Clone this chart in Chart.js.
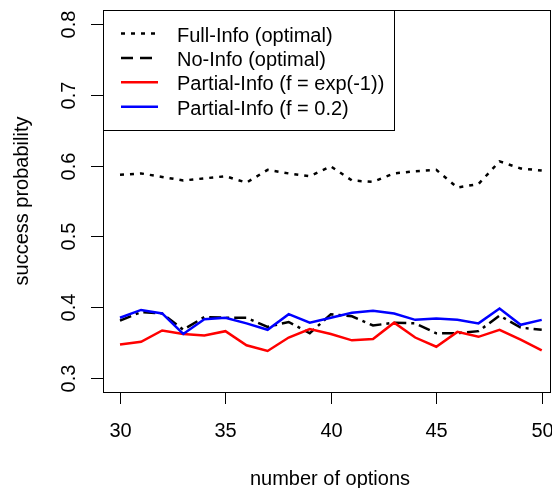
<!DOCTYPE html>
<html>
<head>
<meta charset="utf-8">
<script src="https://cdn.jsdelivr.net/npm/chart.js@4/dist/chart.umd.min.js"></script>
<style>
  html, body { margin: 0; padding: 0; background: #fff; }
  canvas { display: block; }
</style>
</head>
<body>
<canvas id="chart" width="552" height="488"></canvas>
<script>
// dados
const numOptions = [30, 31, 32, 33, 34, 35, 36, 37, 38, 39, 40, 41, 42, 43, 44, 45, 46, 47, 48, 49, 50];
const fullInfo = [0.587, 0.589, 0.584, 0.579, 0.582, 0.585, 0.576, 0.594, 0.589, 0.585, 0.599, 0.579, 0.577, 0.589, 0.592, 0.594, 0.569, 0.574, 0.606, 0.596, 0.593];
const noInfo = [0.381, 0.393, 0.391, 0.368, 0.386, 0.385, 0.385, 0.372, 0.379, 0.363, 0.390, 0.387, 0.374, 0.378, 0.377, 0.363, 0.363, 0.366, 0.388, 0.371, 0.368];
const partialExp = [0.347, 0.351, 0.367, 0.362, 0.360, 0.366, 0.346, 0.338, 0.357, 0.369, 0.362, 0.353, 0.355, 0.378, 0.357, 0.344, 0.365, 0.358, 0.368, 0.354, 0.339];
const partial02 = [0.385, 0.396, 0.391, 0.362, 0.383, 0.385, 0.377, 0.368, 0.390, 0.378, 0.385, 0.392, 0.395, 0.391, 0.382, 0.384, 0.382, 0.377, 0.398, 0.375, 0.382];
const xTicks = [30, 35, 40, 45, 50];
const yTicks = [0.3, 0.4, 0.5, 0.6, 0.7, 0.8];
const legendLabels = ['Full-Info (optimal)', 'No-Info (optimal)', 'Partial-Info (f = exp(-1))', 'Partial-Info (f = 0.2)'];

const FONT = '20px "Liberation Sans", Arial, Helvetica, sans-serif';

function toPoints(values) {
    return values.map((v, i) => ({ x: numOptions[i], y: v }));
}

// estilos das séries
const styles = [
    { color: '#000000', dash: [4, 6], legendDash: [4, 6] },
    { color: '#000000', dash: [12, 5, 3, 5], legendDash: [12, 7] },
    { color: '#ff0000', dash: [], legendDash: [] },
    { color: '#0000ff', dash: [], legendDash: [] }
];
const series = [fullInfo, noInfo, partialExp, partial02];

// eixos, caixa e legenda no estilo R
const rAxesPlugin = {
    id: 'rAxes',
    afterDraw(chart) {
        const ctx = chart.ctx;
        const area = chart.chartArea;
        const xs = chart.scales.x;
        const ys = chart.scales.y;
        ctx.save();
        ctx.strokeStyle = '#000';
        ctx.fillStyle = '#000';
        ctx.lineWidth = 1;
        ctx.setLineDash([]);

        // caixa
        ctx.strokeRect(area.left + 0.5, area.top + 0.5, area.right - area.left - 1, area.bottom - area.top);

        ctx.font = FONT;
        // eixo x
        ctx.textAlign = 'center';
        ctx.textBaseline = 'alphabetic';
        xTicks.forEach(t => {
            const px = Math.round(xs.getPixelForValue(t)) + 0.5;
            ctx.beginPath();
            ctx.moveTo(px, area.bottom);
            ctx.lineTo(px, area.bottom + 12);
            ctx.stroke();
            ctx.fillText(String(t), px, 437);
        });
        ctx.fillText('number of options', 330, 485);

        // eixo y
        yTicks.forEach(t => {
            const py = Math.round(ys.getPixelForValue(t)) + 0.5;
            ctx.beginPath();
            ctx.moveTo(area.left, py);
            ctx.lineTo(area.left - 12, py);
            ctx.stroke();
            ctx.save();
            ctx.translate(75, py);
            ctx.rotate(-Math.PI / 2);
            ctx.fillText(t.toFixed(1), 0, 0);
            ctx.restore();
        });
        ctx.save();
        ctx.translate(28, (area.top + area.bottom) / 2);
        ctx.rotate(-Math.PI / 2);
        ctx.fillText('success probability', 0, 0);
        ctx.restore();

        // legenda
        const boxRight = 394.5;
        const boxBottom = 130.5;
        ctx.fillStyle = '#fff';
        ctx.fillRect(area.left + 0.5, area.top + 0.5, boxRight - area.left - 0.5, boxBottom - area.top - 0.5);
        ctx.strokeRect(area.left + 0.5, area.top + 0.5, boxRight - area.left - 0.5, boxBottom - area.top - 0.5);
        ctx.textAlign = 'left';
        legendLabels.forEach((label, i) => {
            const y = 33.5 + i * 24.4;
            ctx.strokeStyle = styles[i].color;
            ctx.lineWidth = 2.5;
            ctx.setLineDash(styles[i].legendDash);
            ctx.beginPath();
            ctx.moveTo(121, y);
            ctx.lineTo(158, y);
            ctx.stroke();
            ctx.setLineDash([]);
            ctx.fillStyle = '#000';
            ctx.fillText(label, 177, y + 8);
        });
        ctx.restore();
    }
};

function initChart() {
    const ctx = document.getElementById('chart').getContext('2d');
    new Chart(ctx, {
        type: 'line',
        data: {
            datasets: series.map((values, i) => ({
                label: legendLabels[i],
                data: toPoints(values),
                borderColor: styles[i].color,
                borderDash: styles[i].dash,
                borderWidth: 2.5,
                borderCapStyle: 'butt',
                pointRadius: 0,
                tension: 0,
                fill: false,
                order: 3 - i
            }))
        },
        options: {
            responsive: false,
            animation: false,
            layout: { padding: { left: 103, right: 1, top: 10, bottom: 96 } },
            plugins: {
                legend: { display: false },
                tooltip: { enabled: false }
            },
            scales: {
                x: { type: 'linear', min: 29.194, max: 50.44, display: false },
                y: { type: 'linear', min: 0.28, max: 0.82, display: false }
            }
        },
        plugins: [rAxesPlugin]
    });
}

initChart();
</script>
</body>
</html>
